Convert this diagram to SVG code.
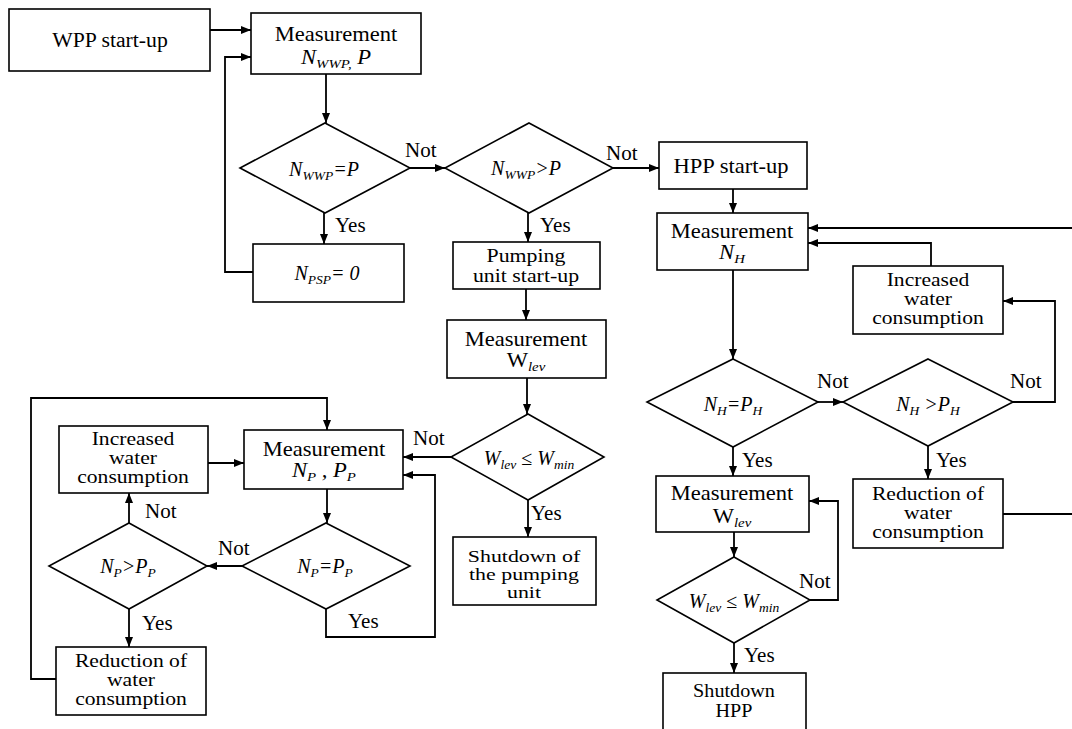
<svg xmlns="http://www.w3.org/2000/svg" width="1072" height="729" viewBox="0 0 1072 729" font-family="'Liberation Serif', 'DejaVu Serif', serif">
<style>
text{font-family:'Liberation Serif','DejaVu Serif',serif;font-size:20.5px;fill:#000}
.c{text-anchor:middle}
.i{font-style:italic}
.l{font-size:21px}
.p{font-size:19px}
.m{font-size:18px}
.u{font-size:17.5px}
.d{font-size:20px}
.s{font-size:13.5px;font-style:italic}
.box{fill:#fff;stroke:#000;stroke-width:1.6}
.ln{fill:none;stroke:#000;stroke-width:1.8}
</style>
<defs>
<marker id="ah" viewBox="0 0 10 8" refX="10" refY="4" markerWidth="11" markerHeight="8" orient="auto" markerUnits="userSpaceOnUse"><path d="M0,0 L10,4 L0,8 z" fill="#000"/></marker>
</defs>
<rect width="1072" height="729" fill="#fff"/>

<g id="connectors">
<path class="ln" d="M210,30 H251" marker-end="url(#ah)"/>
<path class="ln" d="M253,272 H225 V57 H251" marker-end="url(#ah)"/>
<path class="ln" d="M326,74 V123" marker-end="url(#ah)"/>
<path class="ln" d="M324,213 V244" marker-end="url(#ah)"/>
<path class="ln" d="M410,168 H445" marker-end="url(#ah)"/>
<path class="ln" d="M613,168 H659" marker-end="url(#ah)"/>
<path class="ln" d="M528,213 V242" marker-end="url(#ah)"/>
<path class="ln" d="M526,289 V320" marker-end="url(#ah)"/>
<path class="ln" d="M527,378 V414" marker-end="url(#ah)"/>
<path class="ln" d="M451,457 H403" marker-end="url(#ah)"/>
<path class="ln" d="M528,500 V537" marker-end="url(#ah)"/>
<path class="ln" d="M733,189 V213" marker-end="url(#ah)"/>
<path class="ln" d="M733,270 V359" marker-end="url(#ah)"/>
<path class="ln" d="M1072,228 H808" marker-end="url(#ah)"/>
<path class="ln" d="M931,266 V243 H808" marker-end="url(#ah)"/>
<path class="ln" d="M1013,402 H1055 V301 H1003" marker-end="url(#ah)"/>
<path class="ln" d="M818,402 H843" marker-end="url(#ah)"/>
<path class="ln" d="M733,447 V476" marker-end="url(#ah)"/>
<path class="ln" d="M928,446 V479" marker-end="url(#ah)"/>
<path class="ln" d="M1003,514 H1072"/>
<path class="ln" d="M734,532 V557" marker-end="url(#ah)"/>
<path class="ln" d="M810,600 H838 V501 H809" marker-end="url(#ah)"/>
<path class="ln" d="M734,643 V673" marker-end="url(#ah)"/>
<path class="ln" d="M327,489 V523" marker-end="url(#ah)"/>
<path class="ln" d="M326,609 V637 H435 V475 H403" marker-end="url(#ah)"/>
<path class="ln" d="M242,566 H207" marker-end="url(#ah)"/>
<path class="ln" d="M129,523 V493" marker-end="url(#ah)"/>
<path class="ln" d="M129,609 V647" marker-end="url(#ah)"/>
<path class="ln" d="M208,463 H244" marker-end="url(#ah)"/>
<path class="ln" d="M56,679 H31 V398 H327 V430" marker-end="url(#ah)"/>
</g>

<g id="labels">
<text class="l" x="405" y="157">Not</text>
<text class="l" x="335" y="232">Yes</text>
<text class="l" x="606" y="160">Not</text>
<text class="l" x="540" y="232">Yes</text>
<text class="l" x="817" y="388">Not</text>
<text class="l" x="1010" y="388">Not</text>
<text class="l" x="742" y="467">Yes</text>
<text class="l" x="936" y="467">Yes</text>
<text class="l" x="799" y="588">Not</text>
<text class="l" x="744" y="662">Yes</text>
<text class="l" x="413" y="445">Not</text>
<text class="l" x="531" y="520">Yes</text>
<text class="l" x="218" y="555">Not</text>
<text class="l" x="145" y="518">Not</text>
<text class="l" x="142" y="630">Yes</text>
<text class="l" x="348" y="628">Yes</text>
</g>

<g id="wpp-startup">
<rect class="box" x="9" y="9" width="201" height="62"/>
<text class="c" transform="translate(110 0) scale(1.06 1)" x="0" y="47">WPP start-up</text>
</g>

<g id="measurement-nwwp">
<rect class="box" x="251" y="13" width="170" height="61"/>
<text class="c" transform="translate(336 0) scale(1.1 1)" x="0" y="41">Measurement</text>
<text class="c i" transform="translate(336 0) scale(1.1 1)" x="0" y="64">N<tspan class="s" dy="4">WWP,</tspan><tspan dy="-4"> P</tspan></text>
</g>

<g id="d-nwwp-eq-p">
<polygon class="box" points="325,123 410,168 325,213 240,168"/>
<text class="c i d" x="324" y="176">N<tspan class="s" dy="4">WWP</tspan><tspan dy="-4">=P</tspan></text>
</g>

<g id="npsp-zero">
<rect class="box" x="253" y="244" width="151" height="58"/>
<text class="c i d" x="327" y="280">N<tspan class="s" dy="4">PSP</tspan><tspan dy="-4">= 0</tspan></text>
</g>

<g id="d-nwwp-gt-p">
<polygon class="box" points="529,123 613,168 529,213 445,168"/>
<text class="c i d" x="526" y="175">N<tspan class="s" dy="4">WWP</tspan><tspan dy="-4">&gt;P</tspan></text>
</g>

<g id="hpp-startup">
<rect class="box" x="659" y="142" width="148" height="47"/>
<text class="c" transform="translate(731 0) scale(1.1 1)" x="0" y="173">HPP start-up</text>
</g>

<g id="pumping-startup">
<rect class="box" x="453" y="242" width="147" height="47"/>
<text class="c p" transform="translate(526 0) scale(1.15 1)" x="0" y="262">Pumping</text>
<text class="c p" transform="translate(526 0) scale(1.15 1)" x="0" y="282">unit start-up</text>
</g>

<g id="measurement-wlev-1">
<rect class="box" x="447" y="320" width="159" height="58"/>
<text class="c" transform="translate(526 0) scale(1.1 1)" x="0" y="346">Measurement</text>
<text class="c" transform="translate(526 0) scale(1.1 1)" x="0" y="367">W<tspan class="s" dy="4">lev</tspan></text>
</g>

<g id="d-wlev-1">
<polygon class="box" points="528,414 604,457 528,500 451,457"/>
<text class="c i d" x="529" y="465">W<tspan class="s" dy="4">lev</tspan><tspan dy="-4" font-style="normal"> ≤ </tspan>W<tspan class="s" dy="4">min</tspan></text>
</g>

<g id="shutdown-pumping">
<rect class="box" x="453" y="537" width="143" height="68"/>
<text class="c u" transform="translate(524 0) scale(1.25 1)" x="0" y="562">Shutdown of</text>
<text class="c u" transform="translate(524 0) scale(1.25 1)" x="0" y="580">the pumping</text>
<text class="c u" transform="translate(524 0) scale(1.25 1)" x="0" y="598">unit</text>
</g>

<g id="measurement-nh">
<rect class="box" x="657" y="213" width="151" height="57"/>
<text class="c" transform="translate(732 0) scale(1.1 1)" x="0" y="238">Measurement</text>
<text class="c i" transform="translate(732 0) scale(1.1 1)" x="0" y="259">N<tspan class="s" dy="4">H</tspan></text>
</g>

<g id="increased-right">
<rect class="box" x="853" y="266" width="150" height="68"/>
<text class="c m" transform="translate(928 0) scale(1.2 1)" x="0" y="286">Increased</text>
<text class="c m" transform="translate(928 0) scale(1.2 1)" x="0" y="305">water</text>
<text class="c m" transform="translate(928 0) scale(1.2 1)" x="0" y="324">consumption</text>
</g>

<g id="d-nh-eq-ph">
<polygon class="box" points="733,359 818,402 733,447 647,402"/>
<text class="c i d" x="733" y="411">N<tspan class="s" dy="4">H</tspan><tspan dy="-4">=P</tspan><tspan class="s" dy="4">H</tspan></text>
</g>

<g id="d-nh-gt-ph">
<polygon class="box" points="928,359 1013,402 928,446 843,402"/>
<text class="c i d" x="928" y="411">N<tspan class="s" dy="4">H</tspan><tspan dy="-4"> &gt;P</tspan><tspan class="s" dy="4">H</tspan></text>
</g>

<g id="measurement-wlev-2">
<rect class="box" x="656" y="476" width="153" height="56"/>
<text class="c" transform="translate(732 0) scale(1.1 1)" x="0" y="500">Measurement</text>
<text class="c" transform="translate(732 0) scale(1.1 1)" x="0" y="523">W<tspan class="s" dy="4">lev</tspan></text>
</g>

<g id="reduction-right">
<rect class="box" x="853" y="479" width="150" height="69"/>
<text class="c m" transform="translate(928 0) scale(1.2 1)" x="0" y="500">Reduction of</text>
<text class="c m" transform="translate(928 0) scale(1.2 1)" x="0" y="519">water</text>
<text class="c m" transform="translate(928 0) scale(1.2 1)" x="0" y="538">consumption</text>
</g>

<g id="d-wlev-2">
<polygon class="box" points="734,557 810,600 734,643 657,600"/>
<text class="c i d" x="734" y="608">W<tspan class="s" dy="4">lev</tspan><tspan dy="-4" font-style="normal"> ≤ </tspan>W<tspan class="s" dy="4">min</tspan></text>
</g>

<g id="shutdown-hpp">
<rect class="box" x="663" y="673" width="143" height="70"/>
<text class="c m" transform="translate(734 0) scale(1.12 1)" x="0" y="697">Shutdown</text>
<text class="c m" transform="translate(734 0) scale(1.12 1)" x="0" y="717">HPP</text>
</g>

<g id="measurement-np">
<rect class="box" x="244" y="430" width="159" height="59"/>
<text class="c" transform="translate(324 0) scale(1.1 1)" x="0" y="456">Measurement</text>
<text class="c i" transform="translate(324 0) scale(1.1 1)" x="0" y="477">N<tspan class="s" dy="4">P</tspan><tspan dy="-4"> , P</tspan><tspan class="s" dy="4">P</tspan></text>
</g>

<g id="increased-left">
<rect class="box" x="59" y="426" width="149" height="67"/>
<text class="c m" transform="translate(133 0) scale(1.2 1)" x="0" y="445">Increased</text>
<text class="c m" transform="translate(133 0) scale(1.2 1)" x="0" y="464">water</text>
<text class="c m" transform="translate(133 0) scale(1.2 1)" x="0" y="483">consumption</text>
</g>

<g id="d-np-eq-pp">
<polygon class="box" points="326,523 410,566 326,609 242,566"/>
<text class="c i d" x="325" y="573">N<tspan class="s" dy="4">P</tspan><tspan dy="-4">=P</tspan><tspan class="s" dy="4">P</tspan></text>
</g>

<g id="d-np-gt-pp">
<polygon class="box" points="129,523 207,566 129,609 49,566"/>
<text class="c i d" x="128" y="573">N<tspan class="s" dy="4">P</tspan><tspan dy="-4">&gt;P</tspan><tspan class="s" dy="4">P</tspan></text>
</g>

<g id="reduction-left">
<rect class="box" x="56" y="647" width="150" height="68"/>
<text class="c m" transform="translate(131 0) scale(1.2 1)" x="0" y="667">Reduction of</text>
<text class="c m" transform="translate(131 0) scale(1.2 1)" x="0" y="686">water</text>
<text class="c m" transform="translate(131 0) scale(1.2 1)" x="0" y="705">consumption</text>
</g>
</svg>
